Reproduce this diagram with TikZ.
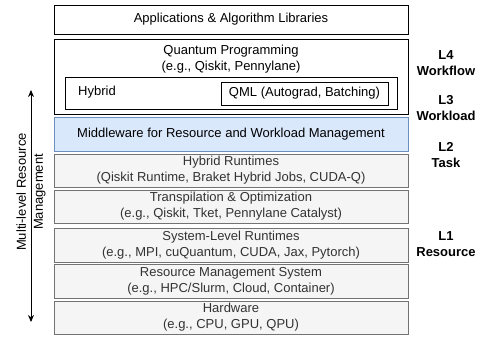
\documentclass[tikz,border=0pt]{standalone}
\usepackage{fontspec}
\setmainfont{Liberation Sans}
\usetikzlibrary{arrows.meta}
\definecolor{grayfill}{HTML}{F5F5F5}
\definecolor{grayline}{HTML}{737373}
\definecolor{graytext}{HTML}{333333}
\definecolor{bluefill}{HTML}{DAE8FC}
\definecolor{blueline}{HTML}{6C8EBF}
\begin{document}
\begin{tikzpicture}[x=1pt,y=-1pt,
  lay/.style={draw=black,line width=0.9pt,fill=white},
  graylay/.style={draw=grayline,line width=0.9pt,fill=grayfill},
  bluelay/.style={draw=blueline,line width=0.9pt,fill=bluefill},
  lvl/.style={font=\bfseries\fontsize{13}{16}\selectfont,align=center,inner sep=0pt},
  plain/.style={font=\fontsize{13}{16}\selectfont,inner sep=0pt,align=center},
  graytxt/.style={plain,text=graytext}
]
\useasboundingbox (0,0) rectangle (483,337);
% boxes
\draw[lay] (54,5) rectangle (408,34);
\node[plain] (apps) at (231,19.5) {Applications \& Algorithm Libraries};
\draw[lay] (54,39) rectangle (408,114);
\node[plain] (qp) at (231,59) {Quantum Programming\\(e.g., Qiskit, Pennylane)};
\draw[lay] (65,77) rectangle (397,109);
\node[plain] (hyb) at (97,92) {Hybrid};
\draw[lay] (221,82) rectangle (388,105);
\node[plain] (qml) at (304.5,93.5) {QML (Autograd, Batching)};
\draw[bluelay] (54,117) rectangle (408,151);
\node[plain] (mw) at (231,134) {Middleware for Resource and Workload Management};
\draw[graylay] (54,154) rectangle (408,187);
\node[graytxt] (hr) at (231,170.5) {Hybrid Runtimes\\(Qiskit Runtime, Braket Hybrid Jobs, CUDA-Q)};
\draw[graylay] (54,190) rectangle (408,223);
\node[graytxt] (tr) at (231,206.5) {Transpilation \& Optimization\\(e.g., Qiskit, Tket, Pennylane Catalyst)};
\draw[graylay] (54,228) rectangle (408,262);
\node[graytxt] (sl) at (231,245) {System-Level Runtimes\\(e.g., MPI, cuQuantum, CUDA, Jax, Pytorch)};
\draw[graylay] (54,264) rectangle (408,298);
\node[graytxt] (rm) at (231,281) {Resource Management System\\(e.g., HPC/Slurm, Cloud, Container)};
\draw[graylay] (54,301) rectangle (408,334);
\node[graytxt] (hw) at (231,317.5) {Hardware\\(e.g., CPU, GPU, QPU)};
% levels
\node[lvl] (l4) at (446,63.5) {L4\\Workflow};
\node[lvl] (l3) at (446,108) {L3\\Workload};
\node[lvl] (l2) at (446,155) {L2\\Task};
\node[lvl] (l1) at (446,244.5) {L1\\Resource};
% arrow
\coordinate (atop) at (31,90);
\coordinate (abot) at (31,322);
\draw[line width=0.9pt,{Stealth[length=7pt,width=6pt]}-{Stealth[length=7pt,width=6pt]}] (atop) -- (abot);
\node[plain,rotate=90,font=\fontsize{13}{17}\selectfont] (mlrm) at (31,192) {Multi-level Resource\\Management};
\end{tikzpicture}
\end{document}
